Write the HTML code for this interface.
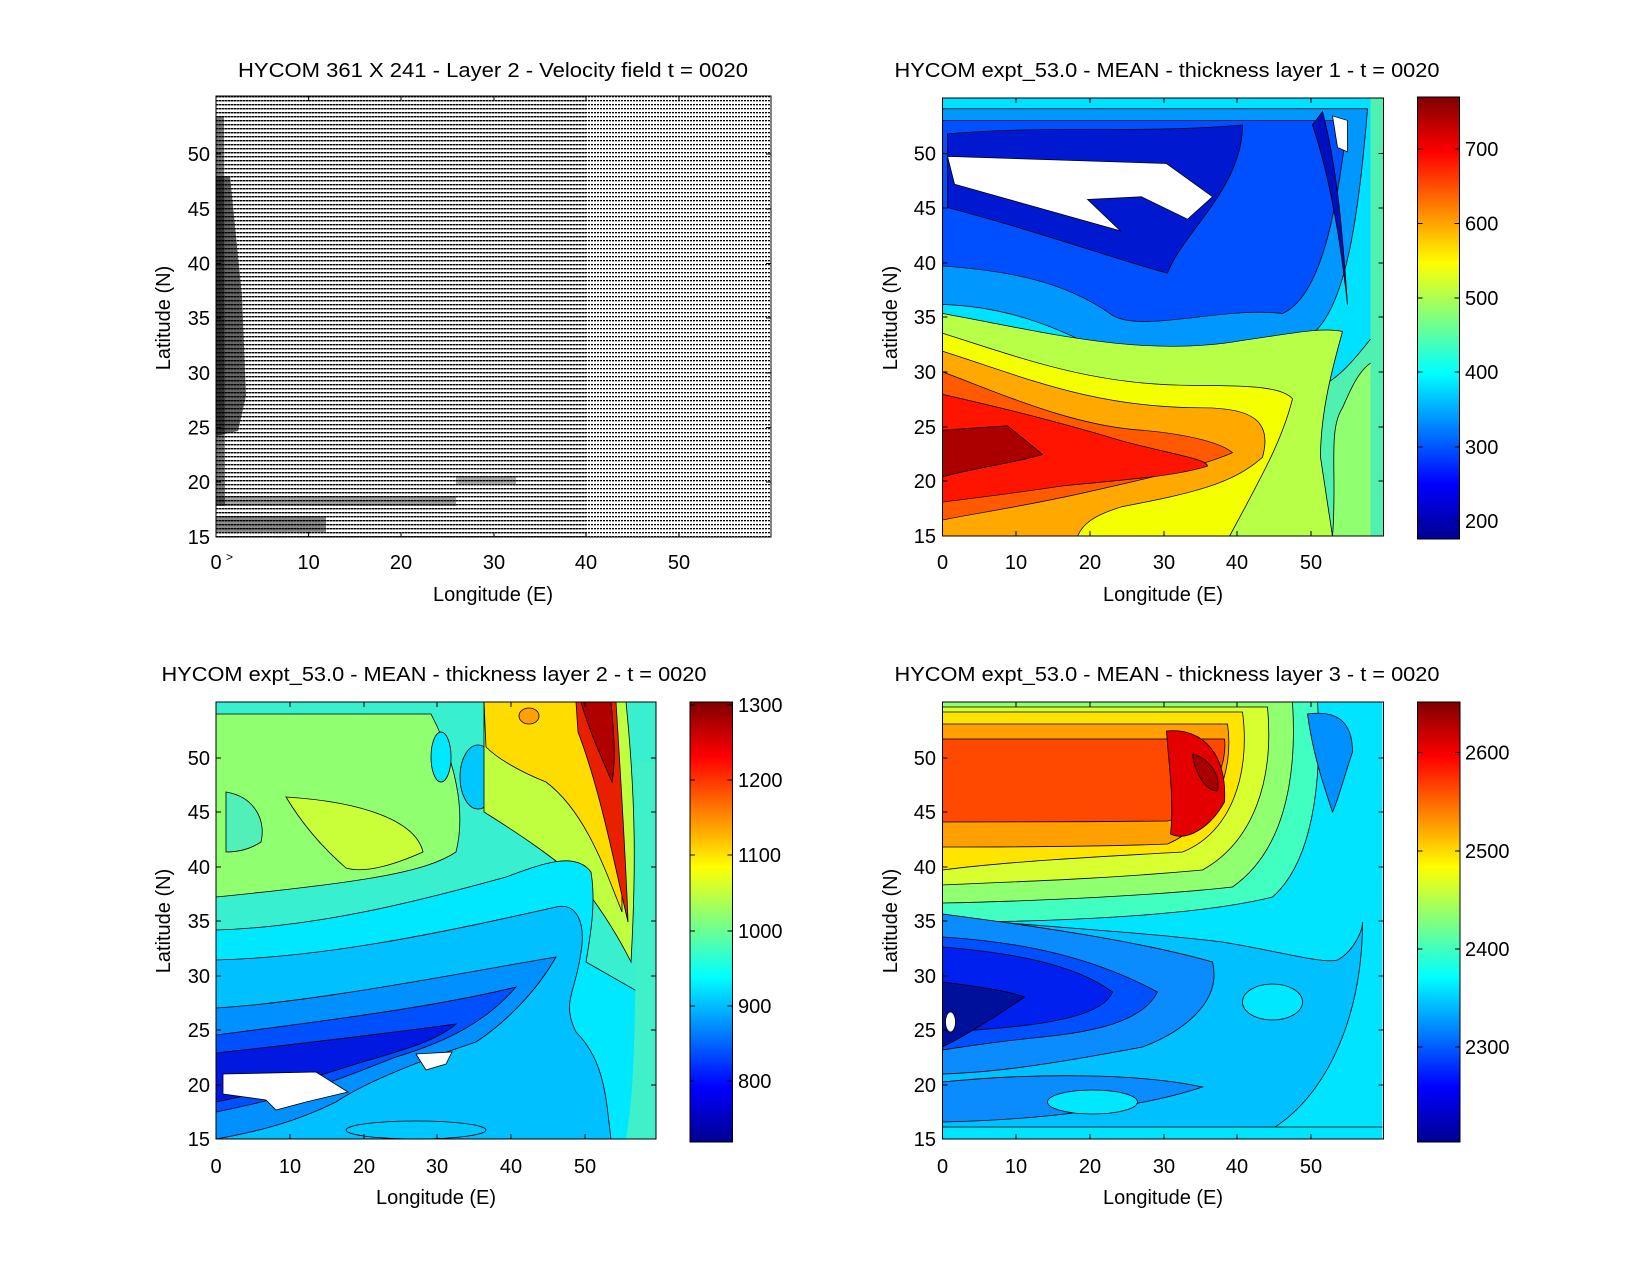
<!DOCTYPE html>
<html><head><meta charset="utf-8"><style>html,body{margin:0;padding:0;background:#fff}svg{display:block}text{font-family:"Liberation Sans",Arial,sans-serif;fill:#000}</style></head>
<body>
<svg width="1650" height="1275" viewBox="0 0 1650 1275" xmlns="http://www.w3.org/2000/svg">
<defs>
<linearGradient id="jet" x1="0" y1="0" x2="0" y2="1">
<stop offset="0" stop-color="#800000"/><stop offset="0.125" stop-color="#ff0000"/><stop offset="0.375" stop-color="#ffff00"/><stop offset="0.625" stop-color="#00ffff"/><stop offset="0.875" stop-color="#0000ff"/><stop offset="1" stop-color="#00008f"/>
</linearGradient>
<pattern id="p1" width="3" height="4" patternUnits="userSpaceOnUse"><rect x="0" y="0" width="2.6" height="1.4" fill="#000"/></pattern>
<pattern id="p2" width="3" height="4" patternUnits="userSpaceOnUse"><rect x="0" y="0" width="2" height="1.3" fill="#000"/></pattern>
<clipPath id="c1"><rect width="555" height="441"/></clipPath>
<clipPath id="c2"><rect width="441" height="438"/></clipPath>
<clipPath id="c3"><rect width="440" height="437"/></clipPath>
</defs>

<!-- PLOT 1 velocity -->
<g transform="translate(216,96)" clip-path="url(#c1)">
<rect width="555" height="441" fill="#fff"/>
<rect width="370" height="441" fill="url(#p1)"/>
<rect x="370" width="185" height="441" fill="url(#p2)"/>
<path d="M0,80 L14,80 L26,200 L30,300 L22,335 L0,340 Z" fill="#000" opacity="0.6"/>
<path d="M0,20 L8,20 L9,410 L0,410 Z" fill="#000" opacity="0.5"/>
<rect x="0" y="400" width="240" height="10" fill="#000" opacity="0.35"/>
<rect x="0" y="420" width="110" height="16" fill="#000" opacity="0.45"/>
<rect x="240" y="380" width="60" height="8" fill="#000" opacity="0.3"/>
</g>
<rect x="216" y="96" width="555" height="441" fill="none" stroke="#000" stroke-width="1"/>

<!-- PLOT 2 layer 1 -->
<g transform="translate(942.5,98)" clip-path="url(#c2)">
<g transform="scale(1,0.898)" stroke="#000" stroke-width="0.8">
<rect width="441" height="488" fill="#50f0b0" stroke="none"/>
<path d="M0,0 H441 V250 C420,280 400,310 380,320 C300,300 200,330 150,310 C100,290 50,265 0,255 Z" fill="#00e0ff"/>
<path d="M0,12 H425 C415,150 400,250 360,270 C300,262 220,300 160,282 C110,252 60,232 0,230 Z" fill="#0098ff"/>
<path d="M0,25 H405 C395,120 380,220 340,240 C280,232 200,262 170,242 C120,202 60,192 0,187 Z" fill="#0050ff"/>
<path d="M5,40 C100,30 200,40 300,30 C300,100 240,150 225,195 C180,182 100,150 5,122 Z" fill="#0018d0"/>
<path d="M380,15 C395,80 400,150 405,230 C398,160 388,90 370,30 Z" fill="#0010c0"/>
<path d="M5,65 L224,73 L270,110 L245,135 L199,110 L145,113 L178,148 L12,96 Z" fill="#fff"/>
<path d="M390,20 L405,25 L405,60 L395,55 Z" fill="#fff"/>
<path d="M441,290 C420,292 410,320 400,345 C385,370 395,420 390,488 H441 Z" fill="#90ff70"/>
<path d="M428,0 H441 V488 H428 Z" fill="#50f0b0" stroke="none"/>
<path d="M0,240 C100,260 200,290 300,270 C350,262 380,255 400,260 C390,300 378,350 378,400 L390,488 H0 Z" fill="#b8ff48"/>
<path d="M0,262 C80,290 150,320 250,320 C310,320 340,322 350,335 C340,380 320,420 287,488 H0 Z" fill="#f4ff00"/>
<path d="M0,282 C80,310 150,345 260,345 C310,345 330,360 320,400 C290,430 250,440 180,455 C150,465 140,475 135,488 H0 Z" fill="#ffa800"/>
<path d="M0,305 C60,330 130,365 200,370 C250,375 280,385 290,395 C260,410 200,425 140,440 C80,455 20,465 0,470 Z" fill="#ff5a00"/>
<path d="M0,330 C60,345 120,362 180,382 C230,397 265,402 265,410 C230,422 180,425 120,432 C60,442 20,447 0,450 Z" fill="#ff1400"/>
<path d="M0,370 L65,365 L100,397 C70,407 30,412 0,422 Z" fill="#aa0000"/>
</g>
</g>
<rect x="942.5" y="98" width="441" height="438" fill="none" stroke="#000"/>
<rect x="1417.5" y="97" width="42" height="442" fill="url(#jet)" stroke="#000"/>

<!-- PLOT 3 layer 2 -->
<g transform="translate(216,702)" clip-path="url(#c3)" stroke="#000" stroke-width="0.8">
<rect width="440" height="437" fill="#38f0d0" stroke="none"/>
<path d="M0,12 H215 C240,60 250,110 240,150 C210,170 150,180 0,195 Z" fill="#90ff70"/>
<path d="M10,90 C40,95 50,120 45,140 C30,150 15,150 10,150 Z" fill="#50f0b8"/>
<path d="M70,95 C150,100 200,120 207,150 C180,162 150,172 130,166 C100,140 82,115 70,95 Z" fill="#c8ff38"/>
<ellipse cx="262" cy="75" rx="18" ry="32" fill="#00c8ff"/>
<ellipse cx="225" cy="55" rx="10" ry="25" fill="#00e8ff"/>
<path d="M268,0 H410 C420,100 420,170 415,260 C400,230 380,200 360,175 C330,150 300,130 268,110 Z" fill="#c0ff40"/>
<path d="M268,0 H398 C402,60 406,150 406,210 C390,170 370,110 330,80 C300,68 280,55 270,45 Z" fill="#ffdc00"/>
<ellipse cx="313" cy="14" rx="10" ry="8" fill="#ffa000"/>
<path d="M360,0 H400 C405,80 410,160 412,220 C400,170 385,90 362,30 Z" fill="#e82000"/>
<path d="M365,0 H395 C398,30 400,60 396,80 C385,55 372,25 365,0 Z" fill="#b00000"/>
<path d="M0,228 C100,225 200,200 290,175 C330,160 360,150 375,170 C380,200 375,230 370,260 L440,300 V437 H0 Z" fill="#00e8ff"/>
<path d="M0,258 C120,255 250,225 340,205 C360,200 370,220 365,250 C360,290 345,300 360,330 C390,360 390,400 395,437 H0 Z" fill="#00c0ff"/>
<path d="M0,306 C100,300 250,270 340,255 C320,290 290,320 260,340 C200,360 150,380 120,400 C80,420 40,430 0,437 Z" fill="#0090ff"/>
<path d="M0,333 C100,320 220,305 300,285 C270,320 230,340 180,355 C140,370 100,390 0,410 Z" fill="#0050ff"/>
<path d="M0,351 C100,340 180,330 240,322 C220,340 180,350 140,362 C90,378 50,390 0,400 Z" fill="#0018e0"/>
<path d="M7,372 L100,370 L132,390 L90,400 L60,408 L50,398 L7,392 Z" fill="#fff"/>
<path d="M200,352 L236,350 L230,362 L210,368 Z" fill="#fff"/>
<ellipse cx="200" cy="428" rx="70" ry="9" fill="#00c8ff"/>
<path d="M420,60 H440 V437 H410 C420,380 420,300 420,60 Z" fill="#40f0c8" stroke="none"/>
</g>
<rect x="216" y="702" width="440" height="437" fill="none" stroke="#000"/>
<rect x="690" y="702" width="42.5" height="440" fill="url(#jet)" stroke="#000"/>

<!-- PLOT 4 layer 3 -->
<g transform="translate(942.5,702)" clip-path="url(#c3)" stroke="#000" stroke-width="0.8">
<rect width="441" height="437" fill="#00e4ff" stroke="none"/>
<path d="M0,0 H375 C380,80 370,160 330,195 C250,215 100,220 0,220 Z" fill="#40ffc0"/>
<path d="M0,0 H350 C355,80 340,150 290,185 C200,195 60,200 0,201 Z" fill="#90ff70"/>
<path d="M0,5 H325 C332,80 310,140 260,168 C150,178 60,180 0,183 Z" fill="#d8ff30"/>
<path d="M0,10 H300 C308,70 290,130 240,150 C150,155 60,160 0,168 Z" fill="#ffe400"/>
<path d="M0,22 H285 C292,70 272,122 225,142 C150,145 60,145 0,145 Z" fill="#ffa000"/>
<path d="M0,37 H282 C285,60 270,110 225,119 C150,120 60,120 0,120 Z" fill="#ff4800"/>
<path d="M224,29 C262,25 285,55 282,100 C268,125 245,140 228,132 C232,100 226,60 224,29 Z" fill="#e40000"/>
<path d="M250,52 C270,58 278,75 275,89 C262,88 252,70 250,52 Z" fill="#a80000"/>
<path d="M365,12 C395,8 410,20 410,50 C400,80 395,100 390,110 C380,80 370,50 365,12 Z" fill="#0090ff"/>
<path d="M0,215 C100,225 200,230 280,240 C340,250 380,262 395,258 C410,250 420,230 420,220 C420,320 380,400 324,430 L300,438 H0 Z" fill="#00c0ff"/>
<ellipse cx="330" cy="300" rx="30" ry="18" fill="#00e8ff"/>
<path d="M0,212 C100,225 200,240 270,260 C280,300 240,330 200,345 C120,360 60,370 0,372 Z" fill="#0a8cff"/>
<path d="M0,235 C80,240 150,255 215,290 C200,320 150,330 100,335 C50,340 20,345 0,348 Z" fill="#0050ff"/>
<path d="M0,245 C60,250 130,260 170,290 C160,315 100,325 0,330 Z" fill="#0020f0"/>
<path d="M0,280 C40,285 70,290 82,295 C60,310 30,330 0,345 Z" fill="#00109a"/>
<ellipse cx="8" cy="320" rx="5" ry="10" fill="#fff"/>
<path d="M0,380 C100,370 200,372 260,385 C200,405 100,418 0,420 Z" fill="#0a8cff"/>
<ellipse cx="150" cy="400" rx="45" ry="12" fill="#00e8ff"/>
<path d="M0,425 H441 V437 H0 Z" fill="#00e4ff"/>
</g>
<rect x="942.5" y="702" width="441" height="437" fill="none" stroke="#000"/>
<rect x="1417.5" y="702" width="42.5" height="440" fill="url(#jet)" stroke="#000"/>

<!-- tick marks -->
<g stroke="#000" stroke-width="1">
<path d="M308.6,537v-5M401,537v-5M494,537v-5M586,537v-5M679,537v-5M308.6,96v5M401,96v5M494,96v5M586,96v5M679,96v5
M216,482h5M216,427.6h5M216,373h5M216,318h5M216,263.5h5M216,209h5M216,154h5M771,482h-5M771,427.6h-5M771,373h-5M771,318h-5M771,263.5h-5M771,209h-5M771,154h-5"/>
<path d="M1016,536v-5M1090,536v-5M1164,536v-5M1237,536v-5M1311,536v-5M1016,98v5M1090,98v5M1164,98v5M1237,98v5M1311,98v5
M942.5,481h5M942.5,427h5M942.5,372h5M942.5,317h5M942.5,263h5M942.5,208h5M942.5,153.5h5M1383.5,481h-5M1383.5,427h-5M1383.5,372h-5M1383.5,317h-5M1383.5,263h-5M1383.5,208h-5M1383.5,153.5h-5"/>
<path d="M290,1139v-5M364,1139v-5M437,1139v-5M511,1139v-5M585,1139v-5M290,702v5M364,702v5M437,702v5M511,702v5M585,702v5
M216,1085h5M216,1030h5M216,976h5M216,921h5M216,867h5M216,812h5M216,758h5M656,1085h-5M656,1030h-5M656,976h-5M656,921h-5M656,867h-5M656,812h-5M656,758h-5"/>
<path d="M1016,1139v-5M1090,1139v-5M1164,1139v-5M1237,1139v-5M1311,1139v-5M1016,702v5M1090,702v5M1164,702v5M1237,702v5M1311,702v5
M942.5,1085h5M942.5,1030h5M942.5,976h5M942.5,921h5M942.5,867h5M942.5,812h5M942.5,758h5M1383.5,1085h-5M1383.5,1030h-5M1383.5,976h-5M1383.5,921h-5M1383.5,867h-5M1383.5,812h-5M1383.5,758h-5"/>
<path d="M1417.5,149h5M1417.5,223.5h5M1417.5,298h5M1417.5,372h5M1417.5,447h5M1417.5,521h5M1459.5,149h-5M1459.5,223.5h-5M1459.5,298h-5M1459.5,372h-5M1459.5,447h-5M1459.5,521h-5"/>
<path d="M690,705h5M690,780h5M690,855h5M690,931h5M690,1006h5M690,1081h5M732.5,705h-5M732.5,780h-5M732.5,855h-5M732.5,931h-5M732.5,1006h-5M732.5,1081h-5"/>
<path d="M1417.5,752.5h5M1417.5,851h5M1417.5,949h5M1417.5,1047h5M1460,752.5h-5M1460,851h-5M1460,949h-5M1460,1047h-5"/>
</g>

<g font-size="20">
<text x="493" y="77" text-anchor="middle" textLength="510" lengthAdjust="spacingAndGlyphs">HYCOM 361 X 241 - Layer 2 - Velocity field  t = 0020</text>
<text x="1167" y="77" text-anchor="middle" textLength="545" lengthAdjust="spacingAndGlyphs">HYCOM expt_53.0 - MEAN - thickness layer 1 - t = 0020</text>
<text x="434" y="681" text-anchor="middle" textLength="545" lengthAdjust="spacingAndGlyphs">HYCOM expt_53.0 - MEAN - thickness layer 2 - t = 0020</text>
<text x="1167" y="681" text-anchor="middle" textLength="545" lengthAdjust="spacingAndGlyphs">HYCOM expt_53.0 - MEAN - thickness layer 3 - t = 0020</text>
<text x="493" y="601" text-anchor="middle">Longitude (E)</text>
<text x="1163" y="601" text-anchor="middle">Longitude (E)</text>
<text x="436" y="1204" text-anchor="middle">Longitude (E)</text>
<text x="1163" y="1204" text-anchor="middle">Longitude (E)</text>
<text transform="translate(170,318) rotate(-90)" text-anchor="middle">Latitude (N)</text>
<text transform="translate(897,318) rotate(-90)" text-anchor="middle">Latitude (N)</text>
<text transform="translate(170,921) rotate(-90)" text-anchor="middle">Latitude (N)</text>
<text transform="translate(897,921) rotate(-90)" text-anchor="middle">Latitude (N)</text>
</g>
<g font-size="20" text-anchor="middle">
<text x="216" y="569">0</text><text x="308.6" y="569">10</text><text x="401" y="569">20</text><text x="494" y="569">30</text><text x="586" y="569">40</text><text x="679" y="569">50</text>
<text x="942.5" y="569">0</text><text x="1016" y="569">10</text><text x="1090" y="569">20</text><text x="1164" y="569">30</text><text x="1237" y="569">40</text><text x="1311" y="569">50</text>
<text x="216" y="1173">0</text><text x="290" y="1173">10</text><text x="364" y="1173">20</text><text x="437" y="1173">30</text><text x="511" y="1173">40</text><text x="585" y="1173">50</text>
<text x="942.5" y="1173">0</text><text x="1016" y="1173">10</text><text x="1090" y="1173">20</text><text x="1164" y="1173">30</text><text x="1237" y="1173">40</text><text x="1311" y="1173">50</text>
</g>
<text x="226" y="561" font-size="12">&gt;</text>
<g font-size="20" text-anchor="end">
<text x="210" y="544">15</text><text x="210" y="489">20</text><text x="210" y="434.6">25</text><text x="210" y="380">30</text><text x="210" y="325">35</text><text x="210" y="270.5">40</text><text x="210" y="216">45</text><text x="210" y="161">50</text>
<text x="936" y="543">15</text><text x="936" y="488">20</text><text x="936" y="434">25</text><text x="936" y="379">30</text><text x="936" y="324">35</text><text x="936" y="270">40</text><text x="936" y="215">45</text><text x="936" y="160.5">50</text>
<text x="210" y="1146">15</text><text x="210" y="1092">20</text><text x="210" y="1037">25</text><text x="210" y="983">30</text><text x="210" y="928">35</text><text x="210" y="874">40</text><text x="210" y="819">45</text><text x="210" y="765">50</text>
<text x="936" y="1146">15</text><text x="936" y="1092">20</text><text x="936" y="1037">25</text><text x="936" y="983">30</text><text x="936" y="928">35</text><text x="936" y="874">40</text><text x="936" y="819">45</text><text x="936" y="765">50</text>
</g>
<g font-size="20">
<text x="1465" y="156">700</text><text x="1465" y="230.5">600</text><text x="1465" y="305">500</text><text x="1465" y="379">400</text><text x="1465" y="454">300</text><text x="1465" y="528">200</text>
<text x="738" y="712">1300</text><text x="738" y="787">1200</text><text x="738" y="862">1100</text><text x="738" y="938">1000</text><text x="738" y="1013">900</text><text x="738" y="1088">800</text>
<text x="1465" y="759.5">2600</text><text x="1465" y="858">2500</text><text x="1465" y="956">2400</text><text x="1465" y="1054">2300</text>
</g>
</svg>
</body></html>
